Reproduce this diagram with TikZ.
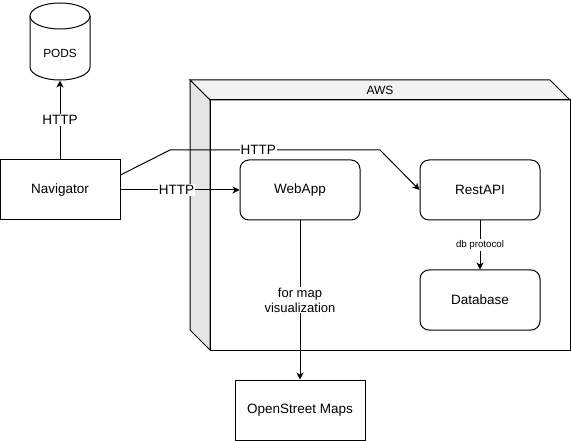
\documentclass[tikz,border=0pt]{standalone}
\usepackage{fontspec}
\setmainfont{Liberation Sans}
\usetikzlibrary{arrows.meta}
\begin{document}
\begin{tikzpicture}[x=1pt,y=-1pt,line width=1pt,
  box/.style={draw,minimum width=120pt,minimum height=60pt,font=\fontsize{13.5}{15}\selectfont,inner sep=0pt},
  rbox/.style={box,rounded corners=9pt},
  lbl/.style={fill=white,inner sep=1pt,font=\fontsize{13.5}{15}\selectfont},
  slbl/.style={fill=white,inner sep=1pt,font=\fontsize{9.7}{11}\selectfont},
  arr/.style={-{Stealth[length=7pt,width=7pt,inset=2pt]}}]
\useasboundingbox (0,0) rectangle (571,441);
% AWS cube
\filldraw[fill=white] (210,100) rectangle (570,350);
\filldraw[fill=black!5] (190,80) -- (550,80) -- (570,100) -- (210,100) -- cycle;
\filldraw[fill=black!10] (190,80) -- (210,100) -- (210,350) -- (190,330) -- cycle;
\draw (210,100) -- (570,100) (210,100) -- (210,350);
\node[font=\fontsize{12}{14}\selectfont] (aws) at (380,90) {AWS};
% PODS cylinder
\draw[fill=white] (30,16) -- (30,67) arc[start angle=180,end angle=0,x radius=30,y radius=13] -- (90,16) arc[start angle=0,end angle=-180,x radius=30,y radius=13] -- cycle;
\draw (30,16) arc[start angle=180,end angle=0,x radius=30,y radius=13];
\node[minimum width=60pt,minimum height=77pt,inner sep=0pt] (pods) at (60,41.5) {};
\node[font=\fontsize{11.8}{13}\selectfont] (podslbl) at (60,53) {PODS};
% boxes
\node[box] (nav) at (60,190) {Navigator};
\node[rbox] (web) at (300,190) {WebApp};
\node[rbox] (rest) at (480,190) {RestAPI};
\node[rbox] (db) at (480,300) {Database};
\node[box,minimum width=130pt] (osm) at (300,410) {OpenStreet Maps};
\coordinate (c1) at (170,150);
\coordinate (c2) at (380,150);
% connectors
\draw[arr] (nav.north) -- node[lbl] {HTTP} (pods.south);
\draw[arr] (nav.east) -- node[lbl,pos=0.47] {HTTP} (web.west);
\draw[arr] (nav.east |- 0,175) -- (c1) -- node[lbl,pos=0.42] {HTTP} (c2) -- (rest.west);
\draw[arr] (rest.south) -- node[slbl,pos=0.5] {db protocol} (db.north);
\draw[arr] (web.south) -- node[lbl,align=center,pos=0.5,font=\fontsize{13}{15}\selectfont] {for map\\visualization} (osm.north);
\end{tikzpicture}
\end{document}
